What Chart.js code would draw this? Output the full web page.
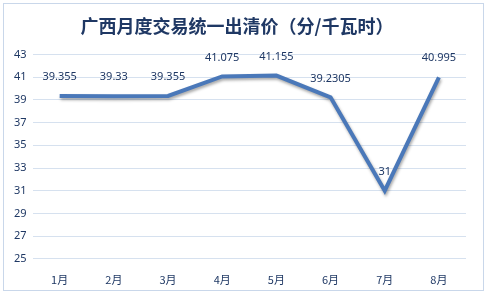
<!DOCTYPE html>
<html>
<head>
<meta charset="utf-8">
<script src="https://cdn.jsdelivr.net/npm/chart.js@4"></script>
<style>
  html, body { margin: 0; padding: 0; background: #fff; }
  #wrap { width: 486px; height: 295px; }
</style>
</head>
<body>
<div id="wrap"><canvas id="myChart" width="486" height="295"></canvas></div>
<script>
// data
var months = ['1月', '2月', '3月', '4月', '5月', '6月', '7月', '8月'];
var prices = [39.355, 39.33, 39.355, 41.075, 41.155, 39.2305, 31, 40.995];
var priceLabels = ['39.355', '39.33', '39.355', '41.075', '41.155', '39.2305', '31', '40.995'];

var navy = '#1f3864';
var lineBlue = '#4a78b9';

// frame round the whole chart
var framePlugin = {
  id: 'frame',
  beforeDraw: function(chart){
    var ctx = chart.ctx;
    ctx.save();
    ctx.fillStyle = '#fff';
    ctx.fillRect(0, 0, chart.width, chart.height);
    ctx.strokeStyle = '#c9d7ea';
    ctx.lineWidth = 1;
    ctx.strokeRect(3.5, 3.5, chart.width - 6, chart.height - 8);
    ctx.restore();
  },
  // soft shadow under the line, like the original
  beforeDatasetDraw: function(chart){
    var ctx = chart.ctx;
    ctx.save();
    ctx.shadowColor = 'rgba(0,0,0,0.35)';
    ctx.shadowBlur = 3;
    ctx.shadowOffsetX = 1;
    ctx.shadowOffsetY = 2;
  },
  afterDatasetDraw: function(chart){
    chart.ctx.restore();
  }
};

// value labels above each point
var labelPlugin = {
  id: 'valueLabels',
  afterDatasetsDraw: function(chart){
    var ctx = chart.ctx;
    var meta = chart.getDatasetMeta(0);
    ctx.save();
    ctx.font = '11px "Noto Sans", sans-serif';
    ctx.fillStyle = navy;
    ctx.textAlign = 'center';
    ctx.textBaseline = 'middle';
    meta.data.forEach(function(pt, i){
      ctx.fillText(priceLabels[i], pt.x, pt.y - 19);
    });
    ctx.restore();
  }
};

var ctx = document.getElementById('myChart').getContext('2d');
var lineChart = new Chart(ctx, {
  type: 'line',
  data: {
    labels: months,
    datasets: [{
      label: '出清价',
      data: prices,
      borderColor: lineBlue,
      borderWidth: 4,
      pointRadius: 0,
      tension: 0,
      fill: false
    }]
  },
  options: {
    responsive: false,
    animation: false,
    layout: { padding: { left: 8, right: 20, top: 0, bottom: 3 } },
    plugins: {
      legend: { display: false },
      tooltip: { enabled: false },
      title: {
        display: true,
        text: '广西月度交易统一出清价（分/千瓦时）',
        color: navy,
        font: { family: '"Noto Sans CJK SC"', size: 18, weight: 'bold' },
        padding: { top: 15, bottom: 18 }
      }
    },
    scales: {
      x: {
        offset: true,
        grid: { display: false },
        border: { display: false },
        ticks: { color: navy, font: { family: '"Noto Sans CJK SC"', size: 11 }, padding: 6 }
      },
      y: {
        min: 25,
        max: 43,
        border: { display: false },
        grid: { color: '#d6e1ef', lineWidth: 1, drawTicks: false },
        ticks: { stepSize: 2, color: navy, font: { family: '"Noto Sans"', size: 11 }, padding: 6 }
      }
    }
  },
  plugins: [framePlugin, labelPlugin]
});
</script>
</body>
</html>
